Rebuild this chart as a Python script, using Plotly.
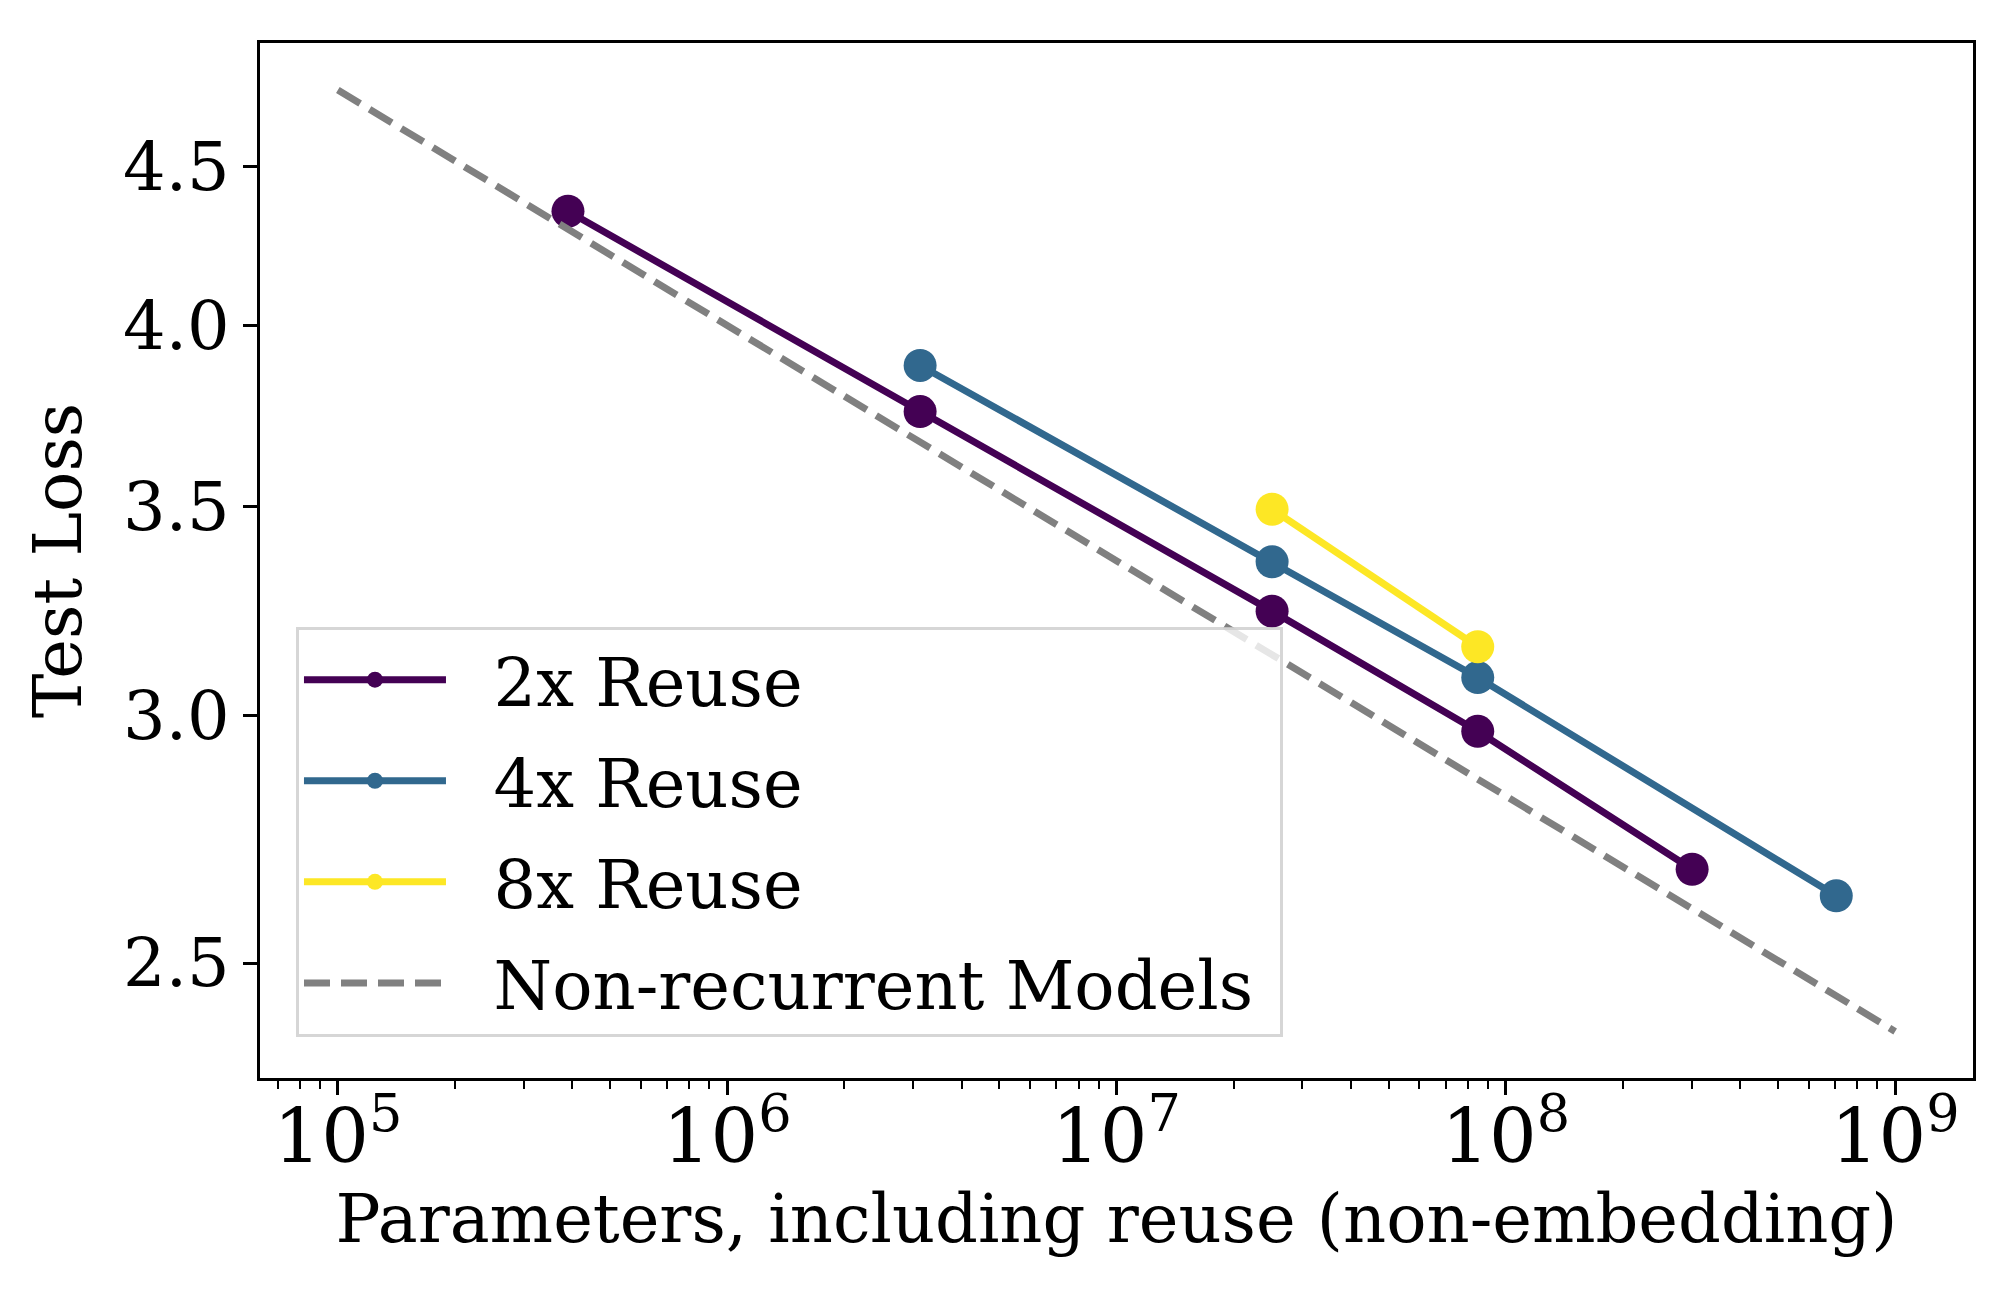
import plotly.graph_objects as go

# Data
x_2x = [3.9e5, 3.13e6, 2.51e7, 8.47e7, 3.01e8]
y_2x = [4.353, 3.755, 3.241, 2.966, 2.679]

x_4x = [3.13e6, 2.51e7, 8.47e7, 7.06e8]
y_4x = [3.885, 3.361, 3.086, 2.627]

x_8x = [2.51e7, 8.47e7]
y_8x = [3.494, 3.157]

x_base = [1e5, 1e9]
y_base = [4.76, 2.377]

names = ["2x Reuse", "4x Reuse", "8x Reuse", "Non-recurrent Models"]
colors = ["#440154", "#31688e", "#fde725", "#808080"]

y_ticks = [2.5, 3.0, 3.5, 4.0, 4.5]
y_ticklabels = ["2.5", "3.0", "3.5", "4.0", "4.5"]

FONT = "DejaVu Serif"
FS = 67
PAD = "\u00a0\u00a0"  # visual gap between legend symbol and label

fig = go.Figure()
for i, (xs, ys) in enumerate([(x_2x, y_2x), (x_4x, y_4x), (x_8x, y_8x)]):
    fig.add_trace(go.Scatter(
        x=xs, y=ys, mode="lines+markers", name=PAD + names[i],
        line=dict(color=colors[i], width=7),
        marker=dict(color=colors[i], size=33),
        legendgroup=f"g{i}",
    ))
fig.add_trace(go.Scatter(
    x=x_base, y=y_base, mode="lines", name=PAD + names[3] + "\u00a0",
    line=dict(color=colors[3], width=7, dash="26px,11px"),
    legendgroup="g3",
))

fig.update_layout(
    width=2000, height=1292,
    margin=dict(l=252, r=35, t=35, b=222),
    paper_bgcolor="white", plot_bgcolor="white",
    font=dict(family=FONT, size=FS, color="black"),
    showlegend=True,
    legend=dict(
        x=0.021, y=0.040, xanchor="left", yanchor="bottom",
        bgcolor="rgba(255,255,255,0.8)", bordercolor="rgba(204,204,204,0.8)", borderwidth=3,
        font=dict(family=FONT, size=FS, color="black"),
        tracegroupgap=11, traceorder="grouped", itemwidth=142,
    ),
)
fig.update_xaxes(
    type="log", range=[4.8, 9.2],
    showgrid=False, zeroline=False,
    showline=True, mirror=True, linecolor="black", linewidth=3,
    ticks="outside", ticklen=14, tickwidth=3, tickcolor="black",
    dtick=1, exponentformat="power", showexponent="all",
    ticklabelstandoff=-20,
    minor=dict(ticks="outside", ticklen=8, tickwidth=2, tickcolor="black", showgrid=False),
    tickfont=dict(family=FONT, size=60),
    title=dict(text="Parameters, including reuse (non-embedding)", font=dict(family=FONT, size=FS), standoff=14),
)
fig.update_yaxes(
    type="log", range=[0.3611, 0.6927],
    showgrid=False, zeroline=False,
    showline=True, mirror=True, linecolor="black", linewidth=3,
    ticks="outside", ticklen=14, tickwidth=3, tickcolor="black",
    tickmode="array", tickvals=y_ticks, ticktext=y_ticklabels,
    tickfont=dict(family=FONT, size=FS),
    title=dict(text="Test Loss", font=dict(family=FONT, size=FS), standoff=20),
)

fig.write_html("out.html")
